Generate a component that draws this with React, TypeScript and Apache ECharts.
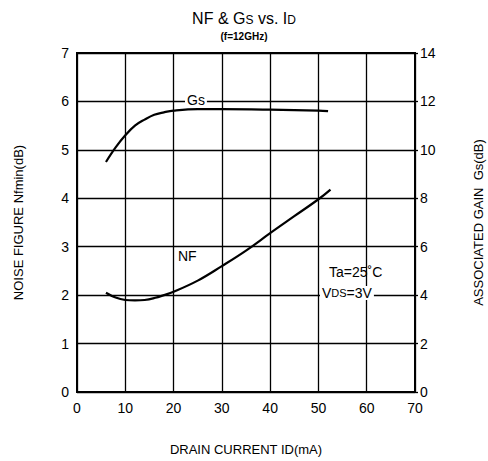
import React, { useEffect, useRef } from "react";
import * as echarts from "echarts";

const drainCurrentNF = [6, 8, 10, 12, 14, 16, 18, 20, 25, 30, 35, 40, 45, 50, 52.5];
const noiseFigure = [2.05, 1.95, 1.9, 1.89, 1.9, 1.94, 2.0, 2.07, 2.3, 2.6, 2.92, 3.28, 3.63, 3.98, 4.18];
const drainCurrentGs = [6, 8, 10, 12, 14, 16, 18, 20, 25, 30, 40, 50, 52];
const assocGain = [9.5, 10.1, 10.6, 11.0, 11.25, 11.45, 11.55, 11.62, 11.68, 11.68, 11.66, 11.62, 11.6];
const xTicks = [0, 10, 20, 30, 40, 50, 60, 70];
const nfTicks = [0, 1, 2, 3, 4, 5, 6, 7];
const gsTicks = [0, 2, 4, 6, 8, 10, 12, 14];

const FONT = "Liberation Sans, Arial, sans-serif";

export default function App() {
  const ref = useRef<HTMLDivElement>(null);
  useEffect(() => {
    document.body.style.margin = "0";
    if (!ref.current) return;
    const chart = echarts.init(ref.current, undefined, { renderer: "svg" });
    chart.setOption({
      animation: false,
      backgroundColor: "#fff",
      textStyle: { fontFamily: FONT, color: "#000" },
      title: {
        text: "{a|NF & G}{b|S}{a| vs. I}{b|D}",
        subtext: "(f=12GHz)",
        left: "center",
        top: 5,
        itemGap: 5,
        textStyle: {
          fontWeight: "normal",
          rich: {
            a: { fontSize: 16, fontFamily: FONT, color: "#000", fontWeight: "normal" },
            b: { fontSize: 12, fontFamily: FONT, color: "#000", fontWeight: "normal", verticalAlign: "bottom", padding: [4, 0, 0, 0] },
          },
        },
        subtextStyle: { fontSize: 10, color: "#000", fontFamily: FONT, fontWeight: "bold" },
      },
      grid: {
        left: 77,
        right: 73,
        top: 53,
        bottom: 69,
        show: true,
        borderColor: "#000",
        borderWidth: 2,
        outerBoundsMode: "none",
        containLabel: false,
      },
      xAxis: {
        type: "value",
        min: xTicks[0],
        max: xTicks[xTicks.length - 1],
        interval: 10,
        name: "DRAIN CURRENT ID(mA)",
        nameLocation: "middle",
        nameGap: 51,
        nameTextStyle: { fontSize: 13, color: "#000", fontFamily: FONT },
        axisLine: { lineStyle: { color: "#000", width: 2 } },
        axisTick: { show: false },
        axisLabel: { fontSize: 14, color: "#000", margin: 9, fontFamily: FONT },
        splitLine: { show: true, lineStyle: { color: "#000", width: 1.3 } },
      },
      yAxis: [
        {
          type: "value",
          min: nfTicks[0],
          max: nfTicks[nfTicks.length - 1],
          interval: 1,
          name: "NOISE FIGURE Nfmin(dB)",
          nameLocation: "middle",
          nameGap: 52,
          nameTextStyle: { fontSize: 13, color: "#000", fontFamily: FONT },
          axisLine: { lineStyle: { color: "#000", width: 2 } },
          axisTick: { show: false },
          axisLabel: { fontSize: 14, color: "#000", margin: 8, fontFamily: FONT },
          splitLine: { show: true, lineStyle: { color: "#000", width: 1.3 } },
        },
        {
          type: "value",
          position: "right",
          min: gsTicks[0],
          max: gsTicks[gsTicks.length - 1],
          interval: 2,
          name: "ASSOCIATED GAIN  Gs(dB)",
          nameLocation: "middle",
          nameGap: 57,
          nameRotate: 90,
          nameTextStyle: { fontSize: 13, color: "#000", fontFamily: FONT },
          axisLine: { lineStyle: { color: "#000", width: 2 } },
          axisTick: { show: true, length: 3, lineStyle: { color: "#000", width: 1.3 } },
          axisLabel: { fontSize: 14, color: "#000", margin: 5, fontFamily: FONT },
          splitLine: { show: false },
        },
      ],
      series: [
        {
          name: "NF",
          type: "line",
          yAxisIndex: 0,
          smooth: 0.4,
          symbol: "none",
          lineStyle: { color: "#000", width: 2.2 },
          data: drainCurrentNF.map((x, i) => [x, noiseFigure[i]]),
          z: 5,
        },
        {
          name: "Gs",
          type: "line",
          yAxisIndex: 1,
          smooth: 0.4,
          symbol: "none",
          lineStyle: { color: "#000", width: 2.2 },
          data: drainCurrentGs.map((x, i) => [x, assocGain[i]]),
          z: 5,
        },
      ],
      graphic: [
        {
          type: "text",
          left: 185,
          top: 93,
          z: 10,
          style: { text: "Gs", fontSize: 14, fontFamily: FONT, fill: "#000", backgroundColor: "#fff", padding: [0, 2] },
        },
        {
          type: "text",
          left: 178,
          top: 249,
          z: 10,
          style: { text: "NF", fontSize: 14, fontFamily: FONT, fill: "#000" },
        },
        {
          type: "text",
          left: 329,
          top: 265,
          z: 10,
          style: { text: "Ta=25˚C", fontSize: 14, fontFamily: FONT, fill: "#000" },
        },
        {
          type: "text",
          left: 320,
          top: 286,
          z: 10,
          style: {
            text: "{a|V}{b|DS}{a|=3V}",
            backgroundColor: "#fff",
            padding: [0, 2],
            rich: {
              a: { fontSize: 14, fontFamily: FONT, color: "#000" },
              b: { fontSize: 11, fontFamily: FONT, color: "#000" },
            },
          },
        },
      ],
    });
    return () => chart.dispose();
  }, []);
  return <div ref={ref} style={{ width: 488, height: 461 }} />;
}
